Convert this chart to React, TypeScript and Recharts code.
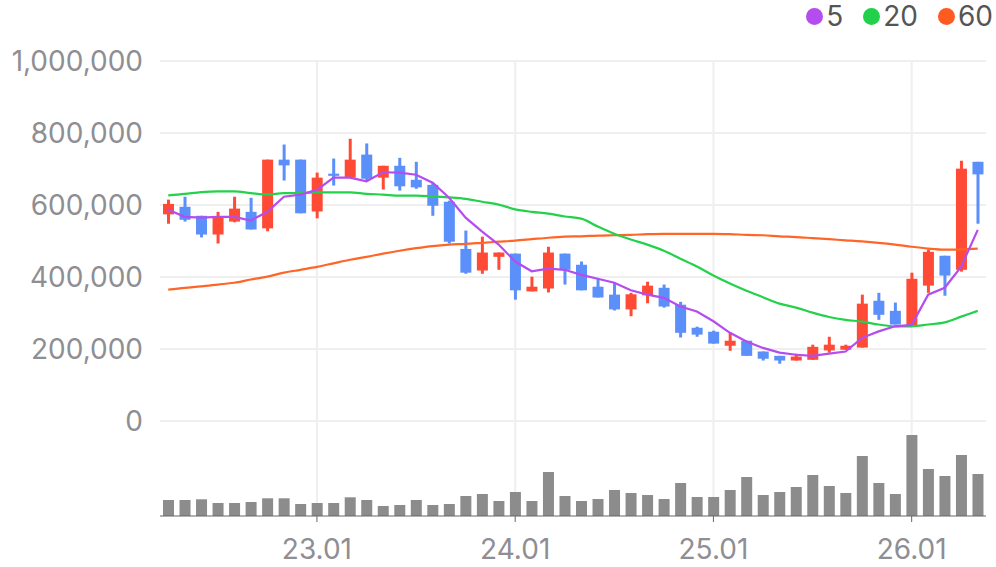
import React from "react";
import { ComposedChart, Bar, Line, XAxis, YAxis, CartesianGrid } from "recharts";

const months = [
  "22.04", "22.05", "22.06", "22.07", "22.08", "22.09", "22.10", "22.11", "22.12",
  "23.01", "23.02", "23.03", "23.04", "23.05", "23.06", "23.07", "23.08", "23.09", "23.10", "23.11", "23.12",
  "24.01", "24.02", "24.03", "24.04", "24.05", "24.06", "24.07", "24.08", "24.09", "24.10", "24.11", "24.12",
  "25.01", "25.02", "25.03", "25.04", "25.05", "25.06", "25.07", "25.08", "25.09", "25.10", "25.11", "25.12",
  "26.01", "26.02", "26.03", "26.04", "26.05",
];

const opens = [
  574000, 595000, 570000, 518000, 554000, 581000, 535000, 726000, 726000,
  582000, 687000, 676000, 740000, 676000, 709000, 670000, 656000, 609000, 478000, 418000, 456000,
  465000, 360000, 368000, 465000, 434000, 373000, 351000, 310000, 349000, 370000, 323000, 259000,
  248000, 209000, 223000, 193000, 181000, 168000, 170000, 196000, 198000, 204000, 334000, 306000,
  265000, 376000, 459000, 420000, 720000,
];
const highs = [
  615000, 623000, 570000, 581000, 623000, 620000, 726000, 768000, 726000,
  690000, 729000, 784000, 771000, 709000, 731000, 720000, 662000, 612000, 529000, 512000, 468000,
  465000, 401000, 484000, 465000, 443000, 395000, 384000, 356000, 387000, 379000, 331000, 262000,
  251000, 246000, 223000, 193000, 181000, 187000, 212000, 234000, 212000, 351000, 356000, 329000,
  412000, 476000, 459000, 723000, 720000,
];
const lows = [
  548000, 554000, 510000, 493000, 552000, 532000, 527000, 668000, 577000,
  563000, 654000, 676000, 666000, 643000, 640000, 645000, 570000, 493000, 409000, 409000, 420000,
  337000, 360000, 357000, 379000, 363000, 343000, 307000, 291000, 327000, 315000, 232000, 234000,
  215000, 195000, 181000, 168000, 159000, 168000, 170000, 190000, 198000, 204000, 281000, 268000,
  265000, 356000, 348000, 415000, 548000,
];
const closes = [
  603000, 559000, 518000, 564000, 590000, 532000, 726000, 710000, 577000,
  676000, 681000, 726000, 673000, 709000, 652000, 649000, 598000, 498000, 412000, 468000, 468000,
  363000, 373000, 468000, 420000, 363000, 343000, 310000, 352000, 376000, 318000, 245000, 240000,
  215000, 223000, 181000, 173000, 168000, 179000, 206000, 212000, 209000, 326000, 295000, 268000,
  395000, 470000, 404000, 701000, 685000,
];

const ma5 = [
  587000, 567000, 565000, 567000, 567000, 557000, 581000, 623000, 629000,
  642000, 676000, 676000, 666000, 691000, 690000, 684000, 662000, 620000, 565000, 526000, 490000,
  443000, 416000, 423000, 420000, 406000, 395000, 384000, 363000, 351000, 342000, 318000, 304000,
  277000, 245000, 221000, 203000, 190000, 184000, 181000, 187000, 193000, 231000, 249000, 263000,
  267000, 351000, 370000, 429000, 531000,
];
const ma20 = [
  627000, 631000, 636000, 638000, 638000, 633000, 629000, 633000, 633000,
  635000, 635000, 635000, 631000, 629000, 626000, 626000, 624000, 621000, 617000, 609000, 601000,
  588000, 581000, 576000, 568000, 562000, 540000, 520000, 504000, 490000, 473000, 451000, 429000,
  404000, 382000, 362000, 344000, 326000, 315000, 301000, 289000, 281000, 276000, 268000, 263000,
  263000, 268000, 274000, 290000, 306000,
];
const ma60 = [
  365000, 370000, 374000, 379000, 384000, 393000, 401000, 412000, 420000,
  428000, 438000, 448000, 456000, 465000, 473000, 480000, 486000, 490000, 492000, 495000, 498000,
  501000, 505000, 509000, 512000, 513000, 515000, 516000, 517000, 519000, 520000, 520000, 520000,
  520000, 519000, 517000, 516000, 513000, 511000, 508000, 505000, 502000, 499000, 495000, 490000,
  484000, 479000, 476000, 477000, 479000,
];

const volumes = [
  160000, 160000, 167000, 130000, 130000, 140000, 177000, 177000, 120000,
  130000, 130000, 187000, 160000, 100000, 110000, 160000, 110000, 120000, 200000, 220000, 150000,
  240000, 150000, 440000, 200000, 150000, 170000, 260000, 230000, 210000, 170000, 330000, 190000,
  190000, 260000, 390000, 210000, 240000, 290000, 410000, 300000, 230000, 600000, 330000, 220000,
  810000, 470000, 400000, 610000, 420000,
];

const xTicks = ["23.01", "24.01", "25.01", "26.01"];
const priceTicks = [0, 200000, 400000, 600000, 800000, 1000000];

const legendItems = [
  { label: "5", color: "#b44cf0" },
  { label: "20", color: "#22d04c" },
  { label: "60", color: "#ff5a1f" },
];

const RED = "#ff4b36";
const BLUE = "#5b8ff9";
const GRID = "#efefef";
const FONT = "Inter, 'Noto Sans', sans-serif";

const data = months.map((m, i) => ({
  m,
  open: opens[i],
  high: highs[i],
  low: lows[i],
  close: closes[i],
  range: [lows[i], highs[i]],
  ma5: ma5[i],
  ma20: ma20[i],
  ma60: ma60[i],
  vol: volumes[i],
}));

function Candle(props: any) {
  const { x, y, width, height, payload } = props;
  if (x == null || y == null) return null;
  const top = Math.min(y, y + height);
  const h = Math.abs(height);
  const { open, close, high, low } = payload;
  const color = close >= open ? RED : BLUE;
  const ratio = high === low ? 0 : h / (high - low);
  const bodyTop = top + (high - Math.max(open, close)) * ratio;
  const bodyBot = top + (high - Math.min(open, close)) * ratio;
  const cx = x + width / 2;
  return (
    <g>
      <rect x={cx - 1.5} y={top} width={3} height={h} fill={color} />
      <rect x={x} y={bodyTop} width={width} height={Math.max(bodyBot - bodyTop, 2)} fill={color} />
    </g>
  );
}

export default function App() {
  return (
    <div style={{ position: "absolute", left: 0, top: 0, width: 996, height: 567, fontFamily: FONT }}>
      <ComposedChart
        width={996}
        height={567}
        data={data}
        margin={{ top: 61, right: 10, bottom: 0, left: 0 }}
      >
        <CartesianGrid stroke={GRID} strokeWidth={2} xAxisId="v" yAxisId="price" syncWithTicks />
        <XAxis
          xAxisId="v"
          dataKey="m"
          ticks={xTicks}
          interval={0}
          height={51}
          stroke="#666"
          tickSize={6}
          tickMargin={17}
          tick={{ fill: "#8e8e93", fontSize: 28, fontFamily: FONT }}
        />
        <XAxis xAxisId="p" dataKey="m" hide height={0} />
        <YAxis
          yAxisId="price"
          domain={[-263889, 1000000]}
          ticks={priceTicks}
          width={160}
          axisLine={false}
          tickLine={false}
          tickMargin={11}
          tick={{ fill: "#8e8e93", fontSize: 28, fontFamily: FONT }}
          tickFormatter={(v: number) => v.toLocaleString("en-US")}
        />
        <YAxis yAxisId="vol" domain={[0, 4550000]} hide />
        <Bar xAxisId="v" yAxisId="vol" dataKey="vol" fill="#8c8c8c" barSize={11} isAnimationActive={false} />
        <Line xAxisId="p" yAxisId="price" dataKey="ma60" stroke="#ff6526" strokeWidth={2.2} dot={false} type="monotone" isAnimationActive={false} />
        <Line xAxisId="p" yAxisId="price" dataKey="ma20" stroke="#23d14b" strokeWidth={2.2} dot={false} type="monotone" isAnimationActive={false} />
        <Bar xAxisId="p" yAxisId="price" dataKey="range" barSize={11} shape={<Candle />} isAnimationActive={false} />
        <Line xAxisId="p" yAxisId="price" dataKey="ma5" stroke="#b44cf0" strokeWidth={2.2} dot={false} type="linear" isAnimationActive={false} />
      </ComposedChart>
      <div style={{ position: "absolute", top: 0, right: 3, display: "flex", alignItems: "center", height: 32 }}>
        {legendItems.map((it) => (
          <div key={it.label} style={{ display: "flex", alignItems: "center", marginLeft: 20 }}>
            <span style={{ width: 17, height: 17, borderRadius: 9, background: it.color, display: "inline-block", marginRight: 3 }} />
            <span style={{ fontSize: 28, color: "#555", lineHeight: "32px" }}>{it.label}</span>
          </div>
        ))}
      </div>
    </div>
  );
}
